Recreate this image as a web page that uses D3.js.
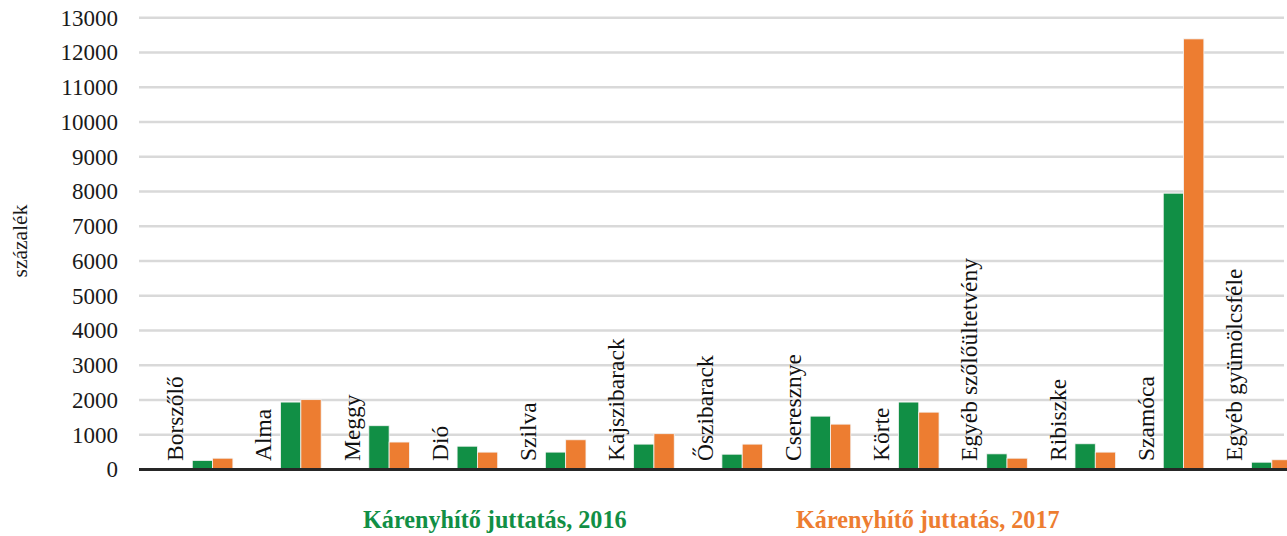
<!DOCTYPE html>
<html>
<head>
<meta charset="utf-8">
<script src="https://cdn.jsdelivr.net/npm/d3@7"></script>
<style>
  html, body { margin: 0; padding: 0; background: #fff; }
  svg { display: block; font-family: "Liberation Serif", "Times New Roman", serif; }
</style>
</head>
<body>
<svg id="chart"></svg>
<script>
// categories and values
const categories = ['Borszőlő', 'Alma', 'Meggy', 'Dió', 'Szilva', 'Kajszibarack', 'Őszibarack',
  'Cseresznye', 'Körte', 'Egyéb szőlőültetvény', 'Ribiszke', 'Szamóca', 'Egyéb gyümölcsféle'];
const values2016 = [260, 1940, 1260, 670, 500, 730, 440, 1535, 1940, 450, 740, 7950, 210];
const values2017 = [325, 2010, 790, 500, 855, 1030, 730, 1305, 1650, 325, 500, 12390, 280];
const seriesNames = ['Kárenyhítő juttatás, 2016', 'Kárenyhítő juttatás, 2017'];
const yTicks = d3.range(0, 13001, 1000);

const width = 1287, height = 536;
const colors = ['#118f45', '#ed7d31'];

const svg = d3.select('#chart').attr('width', width).attr('height', height);

// plot area
const plotLeft = 139, plotRight = 1284;
const y = d3.scaleLinear().domain([0, 13000]).range([469.5, 17.7]);

// category bands (the last group runs past the right edge like in the original)
const x0 = d3.scaleBand()
  .domain(categories)
  .range([158.3, 158.3 + 13 * 88.27])
  .paddingInner(0.31)
  .paddingOuter(0.155);

// slot 0 holds the category label, then the two series
const x1 = d3.scaleBand()
  .domain(['label', 's2016', 's2017'])
  .range([0, x0.bandwidth()]);

// gridlines
svg.append('g')
  .selectAll('line')
  .data(yTicks.filter(d => d > 0))
  .join('line')
  .attr('x1', plotLeft)
  .attr('x2', plotRight)
  .attr('y1', d => y(d))
  .attr('y2', d => y(d))
  .attr('stroke', '#d9d9d9')
  .attr('stroke-width', 2.5);

// y tick labels
svg.append('g')
  .selectAll('text')
  .data(yTicks)
  .join('text')
  .attr('x', 118)
  .attr('y', d => y(d))
  .attr('dy', '0.34em')
  .attr('text-anchor', 'end')
  .attr('font-size', 23)
  .attr('fill', '#1a1a1a')
  .text(d => d);

// y axis title
svg.append('text')
  .attr('transform', 'translate(27,241) rotate(-90)')
  .attr('text-anchor', 'middle')
  .attr('font-size', 21.5)
  .attr('fill', '#1a1a1a')
  .text('százalék');

// bars
const groups = svg.append('g')
  .selectAll('g')
  .data(categories.map((c, i) => ({ cat: c, v: [values2016[i], values2017[i]] })))
  .join('g')
  .attr('transform', d => `translate(${x0(d.cat)},0)`);

groups.selectAll('rect')
  .data(d => d.v.map((v, k) => ({ key: k === 0 ? 's2016' : 's2017', v, k })))
  .join('rect')
  .attr('x', d => x1(d.key))
  .attr('y', d => y(d.v))
  .attr('width', x1.bandwidth())
  .attr('height', d => y(0) - y(d.v))
  .attr('fill', d => colors[d.k])
  .attr('stroke', '#f4f4f4')
  .attr('stroke-width', 0.8);

// category labels, vertical, sitting on the axis in the first slot
groups.append('text')
  .attr('transform', `translate(${x1('label') + 11},${y(0) - 8.5}) rotate(-90)`)
  .attr('font-size', 23.5)
  .attr('fill', '#111')
  .text(d => d.cat);

// x axis line
svg.append('line')
  .attr('x1', plotLeft)
  .attr('x2', width)
  .attr('y1', y(0))
  .attr('y2', y(0))
  .attr('stroke', '#262626')
  .attr('stroke-width', 3);

// legend (coloured text only)
const legendX = [363, 796];
svg.append('g')
  .selectAll('text')
  .data(seriesNames)
  .join('text')
  .attr('x', (d, i) => legendX[i])
  .attr('y', 528)
  .attr('font-size', 24.2)
  .attr('font-weight', 'bold')
  .attr('fill', (d, i) => colors[i])
  .text(d => d);
</script>
</body>
</html>
